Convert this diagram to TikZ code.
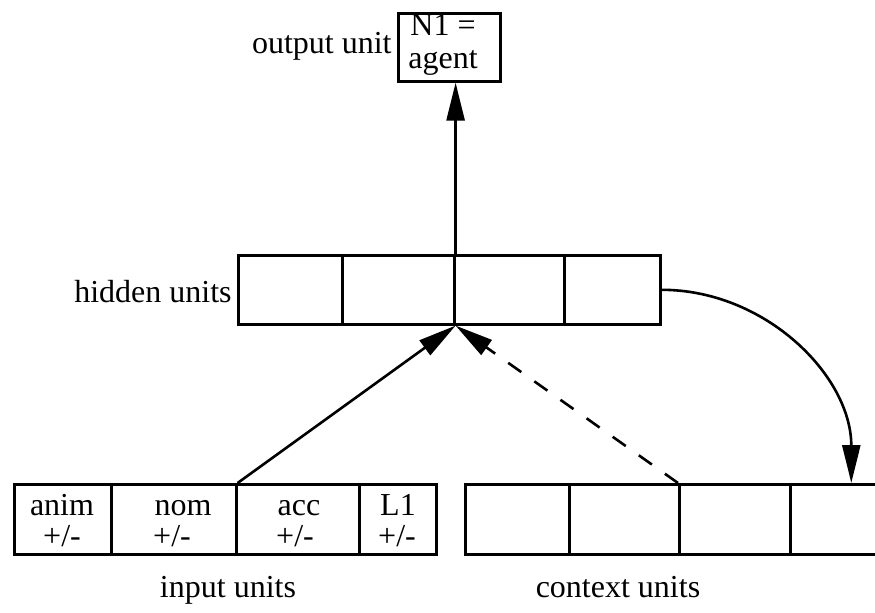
\documentclass[tikz,border=0pt]{standalone}
\usepackage{fontspec}
\setmainfont{Liberation Serif}
\usetikzlibrary{arrows.meta}
\begin{document}
\begin{tikzpicture}[x=0.5pt,y=-0.5pt,
  cell/.style={draw,line width=1.3pt,anchor=north west,inner sep=0pt,minimum height=35pt},
  lbl/.style={inner sep=0pt,font=\fontsize{16}{19}\selectfont},
  conn/.style={line width=1.3pt,-{Triangle[length=19pt,width=9pt]}},
]
\useasboundingbox (0,0) rectangle (875,612);
\clip (0,0) rectangle (875,612);
% output unit
\node[cell,minimum width=51pt,minimum height=34pt] (out) at (397,12) {};
\node[lbl,anchor=base west] (outa) at (410,35) {N1 =};
\node[lbl,anchor=base west] (outb) at (408,68) {agent};
\node[lbl,anchor=base east] (outl) at (392,53) {output unit};
% hidden units
\node[cell,minimum width=52pt,minimum height=34.5pt] (h1) at (237,254) {};
\node[cell,minimum width=56pt,minimum height=34.5pt] (h2) at (341,254) {};
\node[cell,minimum width=55pt,minimum height=34.5pt] (h3) at (453,254) {};
\node[cell,minimum width=48pt,minimum height=34.5pt] (h4) at (563,254) {};
\node[lbl,anchor=base east] (hl) at (232,302) {hidden units};
% input units
\node[cell,minimum width=48.5pt] (i1) at (13,483) {};
\node[cell,minimum width=62.5pt] (i2) at (110,483) {};
\node[cell,minimum width=61.5pt] (i3) at (235,483) {};
\node[cell,minimum width=38.5pt] (i4) at (358,483) {};
\node[lbl,anchor=base] (i1a) at (62,515) {anim};
\node[lbl,anchor=base] (i1b) at (62,546) {+/-};
\node[lbl,anchor=base] (i2a) at (183,515) {nom};
\node[lbl,anchor=base] (i2b) at (172,546) {+/-};
\node[lbl,anchor=base] (i3a) at (299,515) {acc};
\node[lbl,anchor=base] (i3b) at (295,546) {+/-};
\node[lbl,anchor=base] (i4a) at (398,515) {L1};
\node[lbl,anchor=base] (i4b) at (397,546) {+/-};
\node[lbl,anchor=base] (il) at (228,597) {input units};
% context units
\node[cell,minimum width=52pt] (c1) at (464,483) {};
\node[cell,minimum width=55pt] (c2) at (568,483) {};
\node[cell,minimum width=55.5pt] (c3) at (678,483) {};
\node[cell,minimum width=61pt] (c4) at (789,483) {};
\node[lbl,anchor=base] (cl) at (618,597) {context units};
% connectors
\draw[conn] (h2.north east) -- (h2.north east |- out.south);
\draw[conn] (i2.north east) -- (h2.south east);
\draw[conn,dash pattern=on 8pt off 8pt] (c3.north west) -- (h2.south east);
\draw[conn] (h4.east) .. controls +(104,0) and +(0,-107) .. (c4.north);
\end{tikzpicture}
\end{document}
